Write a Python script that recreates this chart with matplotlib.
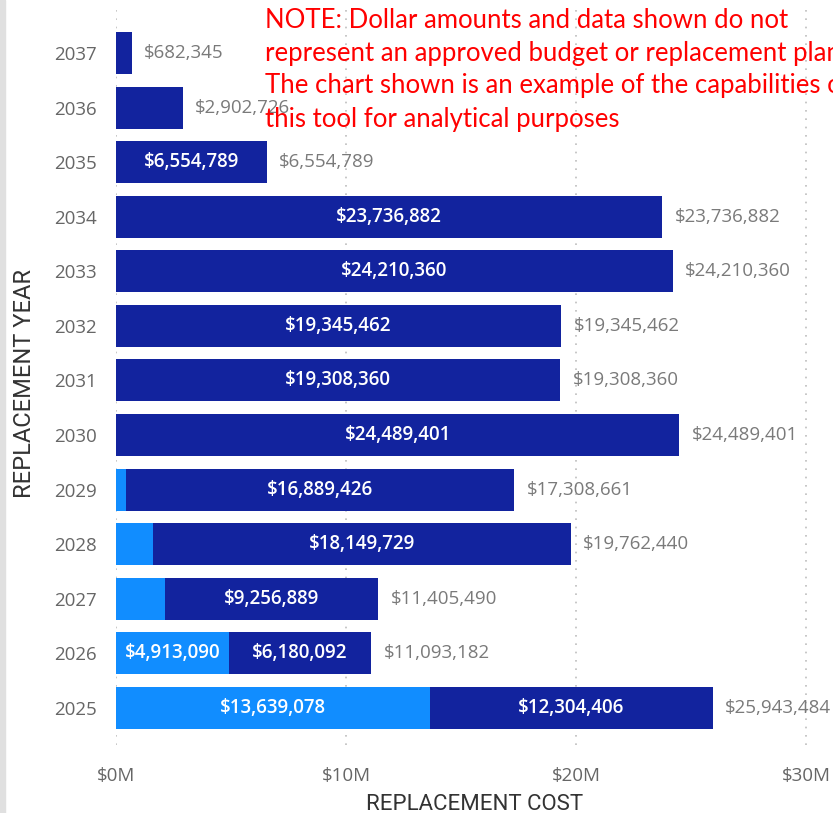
import matplotlib
matplotlib.use("Agg")
import matplotlib.pyplot as plt
from matplotlib.ticker import FuncFormatter

# Replacement cost by year, split into two funding components
years = [2025, 2026, 2027, 2028, 2029, 2030, 2031, 2032, 2033, 2034, 2035, 2036, 2037]
first_component = [13639078, 4913090, 2148601, 1612711, 419235, 0, 0, 0, 0, 0, 0, 0, 0]
second_component = [12304406, 6180092, 9256889, 18149729, 16889426, 24489401, 19308360,
                    19345462, 24210360, 23736882, 6554789, 2902726, 682345]
totals = [25943484, 11093182, 11405490, 19762440, 17308661, 24489401, 19308360,
          19345462, 24210360, 23736882, 6554789, 2902726, 682345]
x_ticks = [0, 10_000_000, 20_000_000, 30_000_000]

note_lines = [
    "NOTE: Dollar amounts and data shown do not",
    "represent an approved budget or replacement plan.",
    "The chart shown is an example of the capabilities of",
    "this tool for analytical purposes",
]

LIGHT = "#118DFF"
DARK = "#12239E"
FONT = "Open Sans"
TITLE_FONT = "Roboto"

W, H = 833, 813
fig = plt.figure(figsize=(W / 100, H / 100), dpi=100)
ax = fig.add_axes([116 / W, 1 - 745 / H, (W - 116) / W, (745 - 5) / H])

pos = list(range(len(years)))
ax.barh(pos, first_component, height=0.77, color=LIGHT, zorder=3)
ax.barh(pos, second_component, left=first_component, height=0.77, color=DARK, zorder=3)

# Segment labels inside the bars where they fit
for i in pos:
    for left, val in ((0, first_component[i]), (first_component[i], second_component[i])):
        if val >= 4_000_000:
            ax.text(left + val / 2, i, f"${val:,.0f}", ha="center", va="center",
                    color="white", fontsize=13.5, family=FONT, fontweight="semibold",
                    zorder=4)
    ax.annotate(f"${totals[i]:,.0f}", xy=(totals[i], i), xytext=(9, 0),
                textcoords="offset points", ha="left", va="center",
                color="#7a7a7a", fontsize=13.5, family=FONT, zorder=4)

ax.set_xlim(0, (W - 116) / 23 * 1_000_000)
ax.set_ylim(-0.68, 12.88)
ax.set_yticks(pos)
ax.set_yticklabels([str(y) for y in years], family=FONT, fontsize=13.5, color="#666666")
ax.set_xticks(x_ticks)
ax.xaxis.set_major_formatter(FuncFormatter(lambda v, _: f"${v / 1e6:.0f}M"))
for lbl in ax.get_xticklabels():
    lbl.set_family(FONT)
    lbl.set_fontsize(13.5)
    lbl.set_color("#666666")
ax.tick_params(axis="both", length=0)
ax.tick_params(axis="x", pad=16)
ax.tick_params(axis="y", pad=14)
ax.grid(axis="x", linestyle=(0, (1, 4)), color="#bdbdbd", linewidth=1.2, zorder=0)
for s in ax.spines.values():
    s.set_visible(False)

ax.set_xlabel("REPLACEMENT COST", family=TITLE_FONT, fontsize=16, color="#333333",
              labelpad=6)
fig.text(25 / W, 1 - 383 / H, "REPLACEMENT YEAR", rotation=90, ha="center", va="center",
         family=TITLE_FONT, fontsize=17, color="#333333")

# Disclaimer in red across the top right
for k, line in enumerate(note_lines):
    fig.text(265 / W, 1 - (20 + 33 * k) / H, line, ha="left", va="center",
             family="Lato", fontsize=18.5, color="#ff0000")

# Thin grey strip on the left edge
fig.patches.append(plt.Rectangle((0, 0), 5 / W, 1, transform=fig.transFigure,
                                 color="#e0e0e0", zorder=0))

fig.savefig("out.png", dpi=100)
